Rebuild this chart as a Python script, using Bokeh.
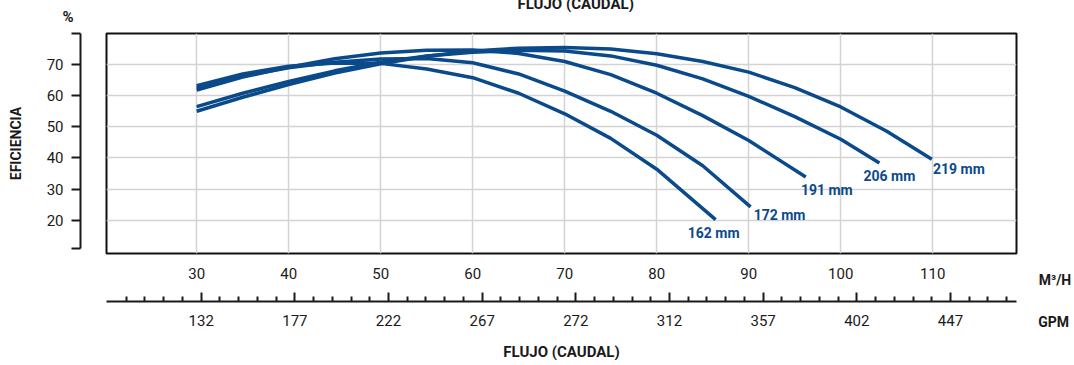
from bokeh.plotting import figure
from bokeh.models import ColumnDataSource, Range1d, LinearAxis, FixedTicker
from bokeh.layouts import row
from bokeh.embed import file_html
from bokeh.resources import INLINE
from bokeh.core.properties import value

# ---------------- data ----------------
sizes = ["162 mm", "172 mm", "191 mm", "206 mm", "219 mm"]

flow_162 = [30, 35, 40, 45, 50, 55, 60, 65, 70, 75, 80, 86.4]
eff_162 = [63.2, 67.0, 69.5, 70.5, 70.4, 68.6, 65.8, 60.8, 54.2, 46.3, 36.4, 20.2]

flow_172 = [30, 35, 40, 45, 50, 55, 60, 65, 70, 75, 80, 85, 90.2]
eff_172 = [62.5, 66.3, 69.0, 70.8, 71.8, 72.0, 70.6, 67.0, 61.5, 55.0, 47.3, 37.5, 24.3]

flow_191 = [30, 35, 40, 45, 50, 55, 60, 65, 70, 75, 80, 85, 90, 96.2]
eff_191 = [61.8, 66.0, 69.2, 71.9, 73.7, 74.6, 74.7, 73.6, 71.0, 66.8, 60.8, 53.6, 45.6, 33.9]

flow_206 = [30, 35, 40, 45, 50, 55, 60, 65, 70, 75, 80, 85, 90, 95, 100, 104.2]
eff_206 = [56.5, 60.8, 64.6, 68.0, 70.8, 72.8, 74.0, 74.6, 74.4, 72.8, 69.8, 65.4, 59.8, 53.3, 46.0, 38.4]

flow_219 = [30, 35, 40, 45, 50, 55, 60, 65, 70, 75, 80, 85, 90, 95, 100, 105, 109.9]
eff_219 = [55.0, 59.5, 63.6, 67.3, 70.3, 72.7, 74.4, 75.3, 75.5, 75.0, 73.5, 71.0, 67.6, 62.6, 56.4, 48.6, 39.6]

m3h_ticks = [30, 40, 50, 60, 70, 80, 90, 100, 110]
gpm_labels = ["132", "177", "222", "267", "272", "312", "357", "402", "447"]
eff_ticks = [20, 30, 40, 50, 60, 70]
unit_labels = ["M³/H", "GPM"]

flows = [flow_162, flow_172, flow_191, flow_206, flow_219]
effs = [eff_162, eff_172, eff_191, eff_206, eff_219]

# ---------------- style ----------------
FONT = "Roboto"
BLUE = "#0b4a8a"
INK = "#1a1a1a"
GRID = "#d3d3d3"

SHIFT = 35           # canvas pulled up: the top heading is cut by the page edge
H = 364 + SHIFT
TOP = 33 + SHIFT
FRAME_H = 220
BOTTOM = H - TOP - FRAME_H

y_range = Range1d(9.3, 80)
x_range = Range1d(20.2, 119.1)

# ---------------- y-axis figure (detached axis) ----------------
pa = figure(width=104, height=H, x_range=Range1d(0, 1), y_range=y_range,
            title="%", x_axis_location=None, output_backend="svg",
            toolbar_location=None, min_border_left=80, min_border_right=0,
            min_border_top=TOP, min_border_bottom=BOTTOM)
pa.outline_line_color = None
pa.grid.visible = False
pa.title.align = "left"
pa.title.offset = -18
pa.title.standoff = 15
pa.title.text_font = FONT
pa.title.text_font_style = "bold"
pa.title.text_font_size = "15px"
pa.title.text_color = INK

ya = pa.yaxis[0]
ya.ticker = FixedTicker(ticks=[11] + eff_ticks + [80])
ya.major_label_overrides = {11: "", 80: ""}
ya.bounds = (11, 80)
ya.axis_line_width = 2
ya.axis_line_color = INK
ya.major_tick_line_width = 2
ya.major_tick_line_color = INK
ya.major_tick_in = 0
ya.major_tick_out = 9
ya.minor_tick_line_color = None
ya.major_label_standoff = 8
ya.major_label_text_font = FONT
ya.major_label_text_font_size = "15px"
ya.major_label_text_color = INK
ya.axis_label = "EFICIENCIA"
ya.axis_label_text_font = FONT
ya.axis_label_text_font_style = "bold"
ya.axis_label_text_font_size = "14px"
ya.axis_label_text_color = INK
ya.axis_label_standoff = 20

# ---------------- main figure ----------------
pb = figure(width=916, height=H, x_range=x_range, y_range=y_range,
            title="FLUJO (CAUDAL)", y_axis_location=None, output_backend="svg",
            toolbar_location=None, min_border_left=2, min_border_right=4,
            min_border_top=TOP, min_border_bottom=BOTTOM)
pb.title.align = "left"
pb.title.offset = 411
pb.title.standoff = 42
pb.title.text_font = FONT
pb.title.text_font_style = "bold"
pb.title.text_font_size = "15px"
pb.title.text_color = INK
pb.outline_line_color = "#111111"
pb.outline_line_width = 2
pb.xgrid.ticker = FixedTicker(ticks=m3h_ticks)
pb.ygrid.ticker = FixedTicker(ticks=eff_ticks)
pb.grid.grid_line_color = GRID
pb.grid.grid_line_width = 1.5

xa = pb.xaxis[0]
xa.ticker = FixedTicker(ticks=m3h_ticks)
xa.axis_line_color = None
xa.major_tick_line_color = None
xa.minor_tick_line_color = None
xa.major_label_standoff = 8
xa.major_label_text_font = FONT
xa.major_label_text_font_size = "15px"
xa.major_label_text_color = INK
xa.axis_label = " "
xa.axis_label_text_font_size = "12px"
xa.axis_label_standoff = 3

pb.extra_x_ranges = {"gpm": Range1d(-1.011, 8.705)}
gpm_pos = list(range(len(gpm_labels)))
gpm_minor = [i + k / 5 for i in range(-1, len(gpm_labels)) for k in range(1, 5)]
ga = LinearAxis(x_range_name="gpm",
                ticker=FixedTicker(ticks=gpm_pos, minor_ticks=gpm_minor),
                major_label_overrides={i: s for i, s in zip(gpm_pos, gpm_labels)})
ga.axis_line_width = 2
ga.axis_line_color = INK
ga.major_tick_line_width = 2
ga.major_tick_line_color = INK
ga.minor_tick_line_width = 2
ga.minor_tick_line_color = INK
ga.major_tick_in = 9
ga.major_tick_out = 0
ga.minor_tick_in = 5
ga.minor_tick_out = 0
ga.major_label_standoff = 13
ga.major_label_text_font = FONT
ga.major_label_text_font_size = "15px"
ga.major_label_text_color = INK
ga.axis_label = "FLUJO (CAUDAL)"
ga.axis_label_text_font = FONT
ga.axis_label_text_font_style = "bold"
ga.axis_label_text_font_size = "15px"
ga.axis_label_text_color = INK
ga.axis_label_standoff = 14
pb.add_layout(ga, "below")

for fx, ey in zip(flows, effs):
    pb.line(fx, ey, line_width=3.5, line_color=BLUE)

lab_src = ColumnDataSource(dict(
    x=[f[-1] for f in flows], y=[e[-1] for e in effs], text=sizes,
    xo=[-2, 29, 21, 10, 27], yo=[13, 8, 13, 13, 10]))
pb.text(x="x", y="y", text="text", x_offset="xo", y_offset="yo", source=lab_src,
        text_font=value(FONT), text_font_style="bold", text_font_size="14px",
        text_color=BLUE, text_align="center", text_baseline="middle")

# ---------------- unit captions on the right (as axis labels of a slim figure) ----
pc = figure(width=52, height=H, x_range=Range1d(0, 52), y_range=Range1d(0, 1),
            x_axis_location=None, y_axis_location=None, output_backend="svg",
            toolbar_location=None, min_border_left=0, min_border_right=0,
            min_border_top=TOP, min_border_bottom=BOTTOM)
pc.outline_line_color = None
pc.grid.visible = False
unit_pos = [37, 40]
unit_standoff = [12, 17]
for txt, pos, so in zip(unit_labels, unit_pos, unit_standoff):
    ax = LinearAxis(ticker=FixedTicker(ticks=[pos]), major_label_overrides={pos: txt})
    ax.axis_line_color = None
    ax.major_tick_line_color = None
    ax.minor_tick_line_color = None
    ax.major_label_standoff = so
    ax.major_label_text_font = FONT
    ax.major_label_text_font_style = "bold"
    ax.major_label_text_font_size = "14px"
    ax.major_label_text_color = INK
    pc.add_layout(ax, "below")

layout = row(pa, pb, pc)
layout.styles = {"margin-top": f"-{SHIFT}px"}
open("out.html", "w").write(file_html(layout, INLINE))
